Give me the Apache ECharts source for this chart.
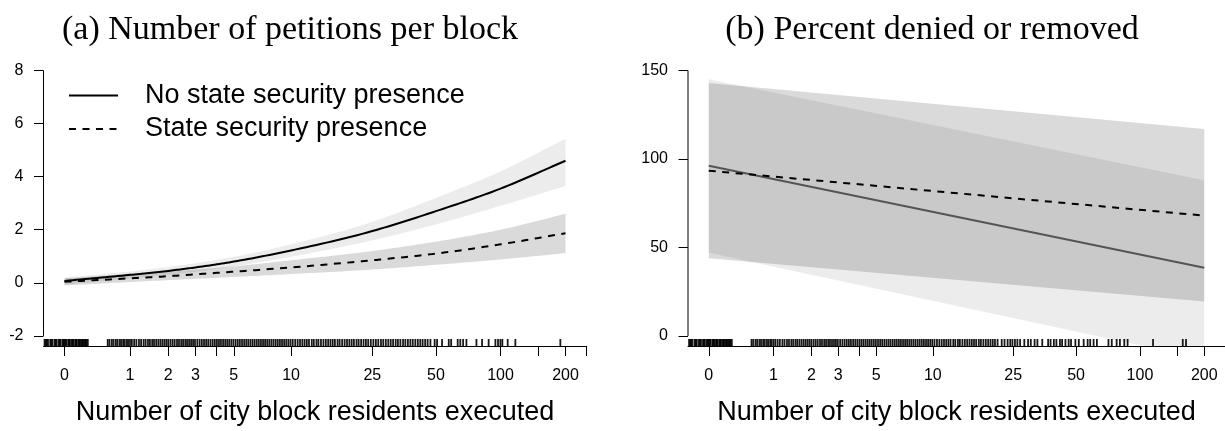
<!DOCTYPE html>
<html><head><meta charset="utf-8">
<script src="https://cdn.jsdelivr.net/npm/echarts@6/dist/echarts.min.js"></script>
<style>html,body{margin:0;padding:0;background:#fff}#c{width:1225px;height:431px}</style>
</head><body><div id="c"></div>
<script>
// ---------- data ----------
const tickLabelValues = [0, 1, 2, 3, 5, 10, 25, 50, 100, 200];
const minorTickValues = [4, 150, 250];
const yTicksA = [-2, 0, 2, 4, 6, 8];
const yTicksB = [0, 50, 100, 150];

// panel (a): number of petitions per block
const xA = [0, 1, 2, 3, 5, 10, 25, 50, 100, 200];
const solidA    = [0.07, 0.30, 0.45, 0.58, 0.80, 1.22, 1.95, 2.70, 3.55, 4.60];
const solidA_hi = [0.20, 0.43, 0.60, 0.74, 0.98, 1.45, 2.30, 3.20, 4.20, 5.43];
const solidA_lo = [-0.07, 0.17, 0.30, 0.42, 0.62, 0.98, 1.60, 2.20, 2.90, 3.65];
const dashA     = [0.04, 0.17, 0.25, 0.32, 0.42, 0.58, 0.85, 1.10, 1.45, 1.87];
const dashA_hi  = [0.17, 0.33, 0.42, 0.50, 0.62, 0.85, 1.20, 1.55, 2.00, 2.60];
const dashA_lo  = [-0.10, 0.03, 0.10, 0.15, 0.22, 0.33, 0.50, 0.68, 0.88, 1.12];

// panel (b): percent denied or removed
const xB = [0, 200];
const solidB    = [96.2, 38.6];
const solidB_hi = [145, 88];
const solidB_lo = [47, -13];
const dashB     = [93.4, 68];
const dashB_hi  = [143, 117];
const dashB_lo  = [44, 19.5];

// rug (number executed per block, jittered)
const rugZero = [-0.19,-0.18,-0.17,-0.16,-0.14,-0.13,-0.12,-0.1,-0.09,-0.08,-0.06,-0.05,-0.04,-0.02,-0.01,0,0.01,0.02,0.04,0.05,0.06,0.08,0.09,0.1,0.12,0.13,0.14,0.16,0.17,0.18,0.2,0.21,0.22,0.24,0.25,0.26,0.28];
const rugDense = [0.58,0.61,0.65,0.68,0.72,0.75,0.79,0.82,0.86,0.89,0.93,0.96,1.0,
 1.04,1.09,1.14,1.2,1.25,1.31,1.36,1.42,1.47,1.53,1.58,1.64,1.7,1.76,1.82,1.88,1.94,2.0,
 2.07,2.14,2.21,2.29,2.36,2.44,2.51,2.59,2.66,2.74,2.82,2.9,2.98,
 3.08,3.18,3.28,3.38,3.48,3.58,3.69,3.8,3.91,4.02,4.13,4.24,4.36,4.48,4.6,4.72,4.85,4.98,
 5.12,5.26,5.4,5.55,5.7,5.85,6.0,6.16,6.32,6.48,6.65,6.82,7.0,7.18,7.36,7.55,7.74,7.94,8.14,8.35,8.56,8.78,9.0,9.23,9.46,9.7,9.94,
 10.2,10.5,10.8,11.1,11.4,11.7,12.0,12.3,12.7,13.0,13.4,13.7,14.1,14.5,14.9,15.3,15.7,16.1,16.5,17.0,17.4,17.9,18.4,18.9,19.4,19.9,20.4,21.0,
 21.5,22.1,22.7,23.3,23.9,24.6,25.3,26,26.7,27.5,28.2,29,29.8,30.6,31.4,32.3,33.1,34,35,35.9,36.9,37.9,38.9,40,41.1,42.2,43.3,44.5,45.7];
const rugSparseA = [47.1,49.3,50.6,53.4,57.4,58.9,63.2,65,67,69.4,77.3,82.1,88.1,94.7,97.4,99.9,102,108,117.2,189.3];
const rugSparseB = [22.0,22.7,23.5,24.2,24.8,25.5,26.2,27.0,28.3,29.5,30.4,31.7,32.7,34.5,36.8,37.8,39.2,40.3,41.9,42.9,44.5,46.1,47.3,49.6,51.5,54.3,56.7,58.3,60.5,62.7,71.1,73.7,77.7,80.5,84.4,87.5,115.2,158.7,164.4];

const nameSolid = 'No state security presence';
const nameDash = 'State security presence';
const titleA = '(a) Number of petitions per block';
const titleB = '(b) Percent denied or removed';
const xTitle = 'Number of city block residents executed';

// ---------- layout ----------
const L = v => Math.log1p(v);
const xMin = -0.2222, xMax = Math.log(251);
const yMinA = -2.38, yMaxA = 8;
const yMinB = -5.63, yMaxB = 150;
const SANS = 'Liberation Sans';
const DASH = [7, 6.5];

const rugA = rugZero.concat(rugDense, rugSparseA);
const rugB = rugZero.concat(rugDense.filter(v => v < 21.5), rugSparseB);

function xAxisCfg(gi) {
  return {
    type: 'value', gridIndex: gi, min: xMin, max: xMax,
    splitLine: {show: false},
    axisLine: {show: true, onZero: false, lineStyle: {color: '#000', width: 1}},
    axisTick: {show: true, length: 10, lineStyle: {color: '#000', width: 1},
      customValues: tickLabelValues.concat(minorTickValues).map(L)},
    axisLabel: {show: true, customValues: tickLabelValues.map(L),
      formatter: v => String(Math.round(Math.expm1(v))),
      fontSize: 16, fontFamily: SANS, color: '#000', margin: 22},
    name: xTitle, nameLocation: 'middle', nameGap: 53,
    nameTextStyle: {fontSize: 27, fontFamily: SANS, color: '#000'}
  };
}
function yAxisCfg(gi, mn, mx, ticks) {
  return {
    type: 'value', gridIndex: gi, min: mn, max: mx,
    splitLine: {show: false}, axisLine: {show: false, onZero: false},
    axisTick: {show: true, length: 9.5, customValues: ticks, lineStyle: {color: '#000', width: 1}},
    axisLabel: {show: true, customValues: ticks, fontSize: 16, fontFamily: SANS, color: '#000', margin: 20}
  };
}
// monotone cubic sampling between pixel points (rendering only)
function monoSample(p) {
  const n = p.length;
  if (n < 3) return p.slice();
  const d = [], m = [];
  for (let i = 0; i < n - 1; i++) d.push((p[i + 1][1] - p[i][1]) / (p[i + 1][0] - p[i][0]));
  m[0] = d[0]; m[n - 1] = d[n - 2];
  for (let i = 1; i < n - 1; i++) {
    const h0 = p[i][0] - p[i - 1][0], h1 = p[i + 1][0] - p[i][0];
    m[i] = (d[i - 1] * d[i] <= 0) ? 0 : (h1 * d[i - 1] + h0 * d[i]) / (h0 + h1);
  }
  const out = [];
  for (let i = 0; i < n - 1; i++) {
    const h = p[i + 1][0] - p[i][0];
    for (let s = 0; s < 16; s++) {
      const t = s / 16, t2 = t * t, t3 = t2 * t;
      const y = (2 * t3 - 3 * t2 + 1) * p[i][1] + (t3 - 2 * t2 + t) * h * m[i] +
                (-2 * t3 + 3 * t2) * p[i + 1][1] + (t3 - t2) * h * m[i + 1];
      out.push([p[i][0] + t * h, y]);
    }
  }
  out.push(p[n - 1]);
  return out;
}
function band(xs, lo, hi, color, ai) {
  const rows = xs.map((x, i) => [L(x), lo[i], hi[i]]);
  return {type: 'custom', xAxisIndex: ai, yAxisIndex: ai, silent: true, z: 1, clip: true,
    data: rows, encode: {x: 0, y: 1},
    renderItem: (params, api) => {
      if (params.dataIndex !== 0) return null;
      const up = monoSample(rows.map(r => api.coord([r[0], r[2]])));
      const dn = monoSample(rows.map(r => api.coord([r[0], r[1]])));
      return {type: 'polygon', shape: {points: up.concat(dn.reverse())}, style: {fill: color}};
    }};
}
function curve(xs, ys, ai, color, dashed) {
  const rows = xs.map((x, i) => [L(x), ys[i]]);
  return {type: 'custom', xAxisIndex: ai, yAxisIndex: ai, silent: true, z: 3,
    data: rows, encode: {x: 0, y: 1},
    renderItem: (params, api) => {
      if (params.dataIndex !== 0) return null;
      const pts = monoSample(rows.map(r => api.coord(r)));
      return {type: 'polyline', shape: {points: pts},
        style: {stroke: color, lineWidth: 2, fill: null, lineDash: dashed ? DASH : null}};
    }};
}
// legend entries (line style keys)
function legendKey(name, dashed) {
  return {type: 'line', name, xAxisIndex: 0, yAxisIndex: 0, data: [], symbol: 'none', silent: true,
    lineStyle: {color: '#000', width: 2, type: dashed ? DASH : 'solid'}};
}
function rug(vals, ai, ymin) {
  return {type: 'custom', xAxisIndex: ai, yAxisIndex: ai, silent: true, z: 2,
    data: vals.map(v => [L(v), ymin]), encode: {x: 0, y: 1},
    renderItem: (p, api) => {
      const c = api.coord([api.value(0), ymin]);
      return {type: 'line', shape: {x1: c[0], y1: c[1], x2: c[0], y2: c[1] - 7},
        style: {stroke: '#000', lineWidth: 1.8, opacity: 0.9}};
    }};
}
function yLine(ai, ticks) {
  return {type: 'line', xAxisIndex: ai, yAxisIndex: ai, data: [[xMin, ticks[0]], [xMin, ticks[ticks.length - 1]]],
    symbol: 'none', silent: true, clip: false, z: 4, lineStyle: {color: '#000', width: 1}};
}

const series = [
  legendKey(nameSolid, false), legendKey(nameDash, true),
  band(xA, solidA_lo, solidA_hi, 'rgba(0,0,0,0.075)', 0),
  band(xA, dashA_lo, dashA_hi, 'rgba(0,0,0,0.145)', 0),
  curve(xA, solidA, 0, '#000', false),
  curve(xA, dashA, 0, '#000', true),
  rug(rugA, 0, yMinA), yLine(0, yTicksA),
  band(xB, solidB_lo, solidB_hi, 'rgba(0,0,0,0.075)', 1),
  band(xB, dashB_lo, dashB_hi, 'rgba(0,0,0,0.145)', 1),
  curve(xB, solidB, 1, '#555', false),
  curve(xB, dashB, 1, '#000', true),
  rug(rugB, 1, yMinB), yLine(1, yTicksB)
];

const chart = echarts.init(document.getElementById('c'), null, {renderer: 'canvas'});
chart.setOption({
  animation: false,
  backgroundColor: '#fff',
  grid: [
    {left: 43.5, top: 70.5, width: 543, height: 276.5},
    {left: 688, top: 70.5, width: 543, height: 276.5}
  ],
  xAxis: [xAxisCfg(0), xAxisCfg(1)],
  yAxis: [yAxisCfg(0, yMinA, yMaxA, yTicksA), yAxisCfg(1, yMinB, yMaxB, yTicksB)],
  legend: {
    data: [nameSolid, nameDash], orient: 'vertical', left: 68, top: 82, padding: 0,
    itemWidth: 49, itemHeight: 14, itemGap: 6.4, selectedMode: false,
    itemStyle: {opacity: 0}, lineStyle: {width: 2},
    textStyle: {fontSize: 27, fontFamily: SANS, color: '#000', lineHeight: 27, padding: [0, 0, 0, 22]}
  },
  graphic: [
    {type: 'text', x: 290, y: 30, silent: true,
     style: {text: titleA, font: '34px "Liberation Serif"', fill: '#000', textAlign: 'center', textVerticalAlign: 'middle', align: 'center', verticalAlign: 'middle'}},
    {type: 'text', x: 932, y: 30, silent: true,
     style: {text: titleB, font: '34px "Liberation Serif"', fill: '#000', textAlign: 'center', textVerticalAlign: 'middle', align: 'center', verticalAlign: 'middle'}}
  ],
  series
});
</script></body></html>
